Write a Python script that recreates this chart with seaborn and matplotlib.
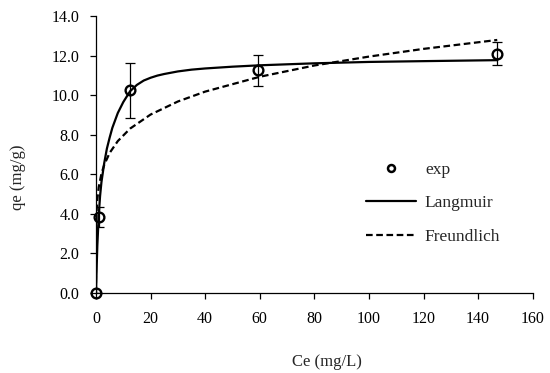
import numpy as np
import pandas as pd
import matplotlib
matplotlib.use("Agg")
import matplotlib.pyplot as plt
import seaborn as sns
from matplotlib.lines import Line2D

ce_exp = [0, 1.0, 12.5, 59.5, 147]
qe_exp = [0, 3.85, 10.25, 11.25, 12.1]
qe_err = [0, 0.5, 1.4, 0.8, 0.6]

# Langmuir fit curve
ce_lang = [0, 0.25, 0.5, 1, 1.5, 2, 3, 4, 5, 6, 8, 10, 12.5, 15, 17.5, 20, 22.5, 25, 30, 35,
           40, 50, 60, 80, 100, 120, 147]
qe_lang = [0, 1.3, 2.4, 3.9, 4.9, 5.6, 6.55, 7.3, 7.85, 8.35, 9.1, 9.65, 10.2, 10.52, 10.74,
           10.88, 10.99, 11.07, 11.2, 11.29, 11.35, 11.44, 11.51, 11.61, 11.68, 11.72, 11.77]

# Freundlich fit curve
ce_freu = [0, 0.01, 0.05, 0.1, 0.25, 0.5, 1, 2, 3, 5, 8, 12.5, 20, 30, 40, 60, 80, 100, 120, 147]
qe_freu = [0, 2.39, 3.16, 3.57, 4.19, 4.73, 5.34, 6.03, 6.47, 7.08, 7.68, 8.31, 9.02, 9.68,
           10.18, 10.93, 11.50, 11.95, 12.34, 12.79]

x_ticks = [0, 20, 40, 60, 80, 100, 120, 140, 160]
y_ticks = [0, 2, 4, 6, 8, 10, 12, 14]

sns.set_style("ticks")
plt.rcParams['font.family'] = ['Liberation Serif', 'DejaVu Serif']

fig = plt.figure(figsize=(5.5, 3.73), dpi=100)
ax = fig.add_axes([0.1745, 0.2145, 0.7941, 0.7425])

lang = pd.DataFrame({"Ce": ce_lang, "qe": qe_lang})
freu = pd.DataFrame({"Ce": ce_freu, "qe": qe_freu})
exp = pd.DataFrame({"Ce": ce_exp, "qe": qe_exp})

sns.lineplot(data=lang, x="Ce", y="qe", ax=ax, color="black", lw=1.6, sort=False)
sns.lineplot(data=freu, x="Ce", y="qe", ax=ax, color="black", lw=1.6, sort=False,
             linestyle=(0, (3, 1.6)))
ax.errorbar(ce_exp, qe_exp, yerr=qe_err, fmt="none", ecolor="black", elinewidth=0.9,
            capsize=3.3, capthick=0.9)
ax.plot(exp["Ce"], exp["qe"], "o", ms=7, mfc="none", mec="black", mew=1.7, clip_on=False,
        zorder=5)

ax.set_xlim(0, 160)
ax.set_ylim(0, 14)
ax.set_xticks(x_ticks)
ax.set_yticks(y_ticks)
ax.set_yticklabels([f"{v:.1f}" for v in y_ticks])
ax.tick_params(axis="both", direction="out", length=4, width=0.9, colors="black",
               labelsize=11.5)
ax.tick_params(axis="x", pad=9)
ax.tick_params(axis="y", pad=8)
for s in ["left", "bottom"]:
    ax.spines[s].set_color("black")
    ax.spines[s].set_linewidth(0.9)
sns.despine(ax=ax)

ax.set_xlabel("Ce (mg/L)", fontsize=12, va="top")
ax.xaxis.set_label_coords(0.529, -0.22)
ax.set_ylabel("qe (mg/g)", fontsize=12)
ax.yaxis.set_label_coords(-0.16, 0.419)

handles = [
    Line2D([], [], marker="o", ls="none", ms=5, mfc="none", mec="black", mew=1.8),
    Line2D([], [], color="black", lw=1.6),
    Line2D([], [], color="black", lw=1.6, linestyle=(0, (3, 1.6))),
]
ax.legend(handles, ["exp", "Langmuir", "Freundlich"], loc="upper left",
          bbox_to_anchor=(0.618, 0.475), frameon=False, fontsize=12.5,
          handlelength=2.9, handletextpad=0.5, labelspacing=1.0, borderpad=0,
          borderaxespad=0)

fig.savefig("out.png", dpi=100)
